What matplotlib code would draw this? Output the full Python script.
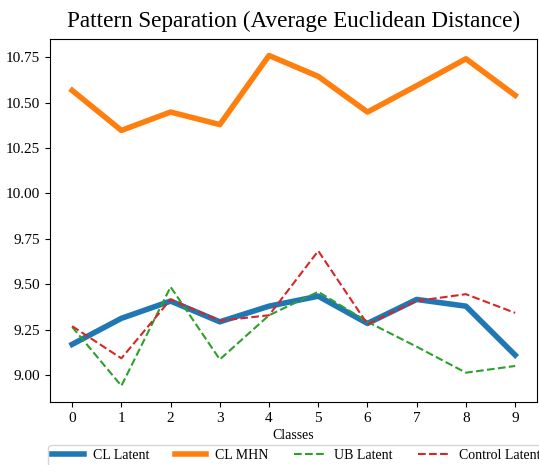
import matplotlib
matplotlib.use("Agg")
import matplotlib.pyplot as plt

plt.rcParams["font.family"] = ["Liberation Serif", "DejaVu Serif"]

# data
classes = list(range(10))
cl_latent = [9.170, 9.313, 9.408, 9.294, 9.380, 9.435, 9.285, 9.417, 9.380, 9.111]
cl_mhn = [10.567, 10.347, 10.448, 10.379, 10.759, 10.644, 10.448, 10.593, 10.741, 10.540]
ub_latent = [9.266, 8.942, 9.486, 9.087, 9.330, 9.459, 9.294, 9.157, 9.014, 9.051]
control_latent = [9.270, 9.093, 9.417, 9.300, 9.330, 9.684, 9.281, 9.409, 9.446, 9.343]

fig = plt.figure(figsize=(5.39, 4.65), dpi=100)
# axes box placed to match the reference (pixels: left 50, right 537, top 39, bottom 402)
ax = fig.add_axes([50 / 539, 1 - 402.3 / 465, 487.3 / 539, 363.3 / 465])

ax.plot(classes, cl_latent, color="#1f77b4", linewidth=4, label="CL Latent")
ax.plot(classes, cl_mhn, color="#ff7f0e", linewidth=4, label="CL MHN")
ax.plot(classes, ub_latent, color="#2ca02c", linewidth=1.5, linestyle="--", label="UB Latent")
ax.plot(classes, control_latent, color="#d62728", linewidth=1.5, linestyle="--", label="Control Latent")

ax.set_xticks(classes)
ax.tick_params(labelsize=11)
ax.set_xlabel("Classes", fontsize=10, labelpad=3)
ax.set_title("Pattern Separation (Average Euclidean Distance)", fontsize=16.7, pad=9)

fig.legend(loc="upper left", bbox_to_anchor=(48 / 539, 1 - 445 / 465),
           ncol=4, fontsize=10, handlelength=2.27, handletextpad=0.65,
           columnspacing=1.83, borderaxespad=0, borderpad=0.3)

fig.savefig("out.png", dpi=100)
